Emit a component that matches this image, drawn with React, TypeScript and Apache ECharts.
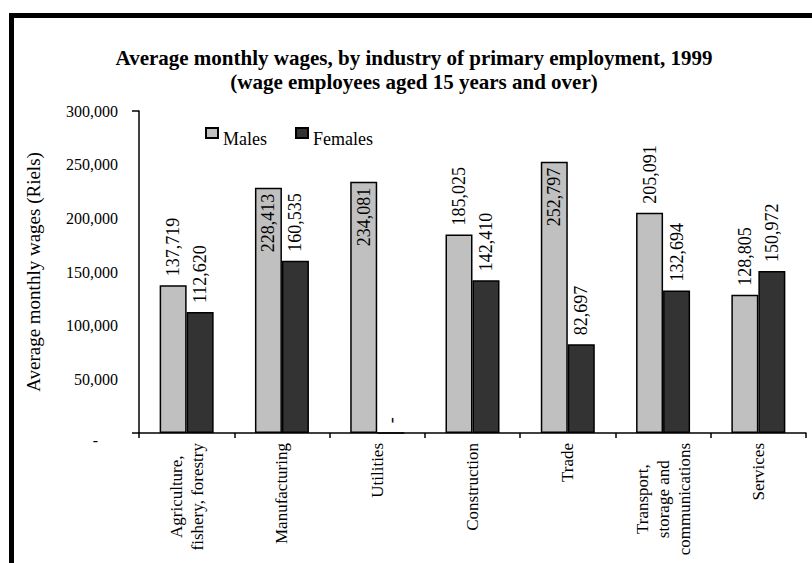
import React, { useEffect, useRef } from "react";
import * as echarts from "echarts";

const categories = [
  "Agriculture,\nfishery, forestry",
  "Manufacturing",
  "Utilities",
  "Construction",
  "Trade",
  "Transport,\nstorage and\ncommunications",
  "Services",
];
const males = [137719, 228413, 234081, 185025, 252797, 205091, 128805];
const females = [112620, 160535, 0, 142410, 82697, 132694, 150972];
const seriesNames = ["Males", "Females"];
const yMin = 0;
const yMax = 300000;
const yInterval = 50000;
const titleText =
  "Average monthly wages, by industry of primary employment, 1999\n(wage employees aged 15 years and over)";
const yAxisName = "Average monthly wages (Riels)";

const FONT = "'Liberation Serif', 'Times New Roman', serif";

const fmt = (v: number) => (v === 0 ? "-" : v.toLocaleString("en-US"));

export default function App() {
  const ref = useRef<HTMLDivElement>(null);
  useEffect(() => {
    if (!ref.current) return;
    const chart = echarts.init(ref.current, null, { renderer: "svg" });

    const makeData = (vals: number[]) =>
      vals.map((v) => {
        const inside = v > 215000;
        return inside
          ? {
              value: v,
              label: { position: "insideTop", align: "right", distance: 6 },
            }
          : { value: v };
      });

    const labelBase = {
      show: true,
      position: "top",
      rotate: 90,
      align: "left",
      verticalAlign: "middle",
      distance: 9,
      fontFamily: FONT,
      fontSize: 18,
      color: "#000",
      formatter: (p: any) => fmt(p.value),
    };

    chart.setOption({
      animation: false,
      backgroundColor: "#fff",
      title: {
        text: titleText,
        left: 414,
        top: 46,
        padding: 0,
        textAlign: "center",
        textStyle: {
          fontFamily: FONT,
          fontSize: 21,
          fontWeight: "bold",
          color: "#000",
          lineHeight: 24,
        },
      },
      legend: {
        left: 205,
        top: 127,
        padding: 0,
        icon: "rect",
        itemWidth: 12,
        itemHeight: 10,
        itemGap: 28,
        data: seriesNames,
        formatter: "{t|{name}}",
        textStyle: {
          fontFamily: FONT,
          fontSize: 18,
          color: "#000",
          rich: {
            t: {
              fontFamily: FONT,
              fontSize: 18,
              color: "#000",
              padding: [12, 0, 0, 0],
            },
          },
        },
      },
      grid: { left: 139, right: 6, top: 111, bottom: 130, containLabel: false },
      xAxis: {
        type: "category",
        data: categories,
        axisLine: { show: true, lineStyle: { color: "#000", width: 1.5 } },
        axisTick: {
          show: true,
          alignWithLabel: false,
          length: 5,
          lineStyle: { color: "#000", width: 1.5 },
        },
        axisLabel: {
          interval: 0,
          rotate: 90,
          margin: 10,
          fontFamily: FONT,
          fontSize: 17,
          color: "#000",
          lineHeight: 21,
          formatter: (v: string) =>
            v
              .split("\n")
              .map((l) => `{c|${l}}`)
              .join("\n"),
          rich: {
            c: {
              align: "center",
              fontFamily: FONT,
              fontSize: 17,
              color: "#000",
              lineHeight: 21,
            },
          },
        },
      },
      yAxis: {
        type: "value",
        min: yMin,
        max: yMax,
        interval: yInterval,
        name: yAxisName,
        nameLocation: "middle",
        nameGap: 96,
        nameTextStyle: { fontFamily: FONT, fontSize: 19, color: "#000" },
        axisLine: { show: true, lineStyle: { color: "#000", width: 1.5 } },
        axisTick: {
          show: true,
          length: 7,
          customValues: [yMin, yMax],
          lineStyle: { color: "#000", width: 1.5 },
        },
        splitLine: { show: false },
        axisLabel: {
          margin: 21,
          fontFamily: FONT,
          fontSize: 16,
          color: "#000",
          formatter: (v: number) => (v === 0 ? "{d|-}" : fmt(v)),
          rich: {
            d: {
              fontFamily: FONT,
              fontSize: 16,
              color: "#000",
              padding: [14, 20, 0, 0],
            },
          },
        },
      },
      series: [
        {
          name: seriesNames[0],
          type: "bar",
          data: makeData(males),
          barWidth: 27,
          barGap: "0%",
          itemStyle: { color: "#c0c0c0", borderColor: "#000", borderWidth: 1.5 },
          label: labelBase,
        },
        {
          name: seriesNames[1],
          type: "bar",
          data: makeData(females),
          barWidth: 27,
          barGap: "0%",
          itemStyle: { color: "#333333", borderColor: "#000", borderWidth: 1.5 },
          label: labelBase,
        },
      ],
      graphic: [
        { type: "rect", left: 9, top: 13, shape: { width: 5, height: 560 }, style: { fill: "#000" }, silent: true },
        { type: "rect", left: 9, top: 13, shape: { width: 810, height: 5 }, style: { fill: "#000" }, silent: true },
      ],
    });
    return () => chart.dispose();
  }, []);
  return (
    <div
      ref={ref}
      style={{ position: "absolute", left: 0, top: 0, width: 812, height: 563 }}
    />
  );
}
